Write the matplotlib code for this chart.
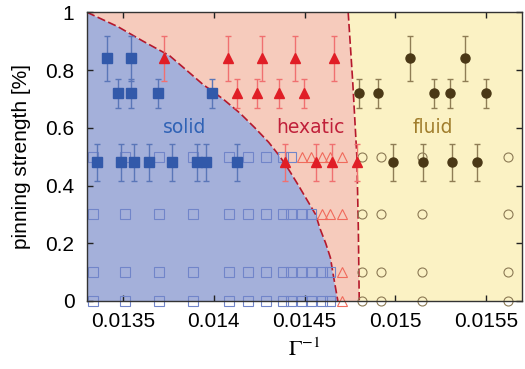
import numpy as np
import matplotlib
matplotlib.use("Agg")
import matplotlib.pyplot as plt

plt.rcParams['font.family'] = ['Liberation Sans', 'DejaVu Sans']
plt.rcParams['mathtext.fontset'] = 'stix'

# simulation grid (open symbols), x = 1/Gamma
grid_x = [0.013335, 0.013512, 0.013699, 0.013884, 0.014085, 0.014188, 0.014290,
          0.014383, 0.014427, 0.014485, 0.014538, 0.014594, 0.014643, 0.014708,
          0.014819, 0.014920, 0.015150, 0.015621]
grid_y = [0.5, 0.3, 0.1, 0.0]
# phase per grid row: s = solid, h = hexatic, f = fluid
grid_phase = {
    0.5: "sssssssss" + "hhhhh" + "ffff",
    0.3: "sssssssssss" + "hhh" + "ffff",
    0.1: "sssssssssssss" + "h" + "ffff",
    0.0: "sssssssssssss" + "h" + "ffff",
}

# measured points (filled symbols with error bars)
solid_x = [0.013408, 0.013542, 0.013472, 0.013542, 0.013693, 0.013991,
           0.013357, 0.013486, 0.013561, 0.013643, 0.013767, 0.013908, 0.013956, 0.014129]
solid_y = [0.84, 0.84, 0.72, 0.72, 0.72, 0.72,
           0.48, 0.48, 0.48, 0.48, 0.48, 0.48, 0.48, 0.48]
hex_x = [0.013726, 0.014079, 0.014266, 0.014447, 0.014663,
         0.014125, 0.014239, 0.014360, 0.014496,
         0.014392, 0.014566, 0.014652, 0.014792]
hex_y = [0.84] * 5 + [0.72] * 4 + [0.48] * 4
fluid_x = [0.015080, 0.015383,
           0.014800, 0.014906, 0.015213, 0.015301, 0.015500,
           0.014986, 0.015154, 0.015316, 0.015452]
fluid_y = [0.84] * 2 + [0.72] * 5 + [0.48] * 4
err_by_level = {0.84: 0.078, 0.72: 0.05, 0.48: 0.065}

# phase boundaries
b1_y = [1.0, 0.95, 0.9, 0.85, 0.8, 0.75, 0.7, 0.65, 0.6, 0.55, 0.5,
        0.45, 0.4, 0.35, 0.3, 0.25, 0.2, 0.15, 0.1, 0.05, 0.0]
b1_x = [0.013300, 0.013471, 0.013609, 0.013755, 0.013848, 0.013940, 0.014050,
        0.014145, 0.014226, 0.014302, 0.014365, 0.014418, 0.014467, 0.014514,
        0.014561, 0.014586, 0.014617, 0.014643, 0.014656, 0.014670, 0.014684]
b2_y = [1.0, 0.76, 0.5, 0.25, 0.0]
b2_x = [0.014741, 0.014766, 0.014789, 0.014797, 0.014802]

xmin, xmax = 0.0133, 0.0157

fig = plt.figure(figsize=(5.25, 3.69), dpi=100)
ax = fig.add_axes([0.1657, 0.1843, 0.8286, 0.7824])

# region fills
ax.fill(b1_x + [xmin], b1_y + [0.0], color='#a4b0da', lw=0, zorder=0)
ax.fill(b1_x + b2_x[::-1], b1_y + b2_y[::-1], color='#f6cbbc', lw=0, zorder=0)
ax.fill(b2_x + [xmax, xmax], b2_y + [0.0, 1.0], color='#fbf2c4', lw=0, zorder=0)
ax.plot(b1_x, b1_y, color='#b5182c', lw=1.2, ls=(0, (5, 2)), zorder=1)
ax.plot(b2_x, b2_y, color='#b5182c', lw=1.2, ls=(0, (5, 2)), zorder=1)

# open symbols
open_style = {
    's': dict(marker='s', color='#7185c9', ms=6.5),
    'h': dict(marker='^', color='#f06a5c', ms=6.5),
    'f': dict(marker='o', color='#8c7a55', ms=6.5),
}
for yv in grid_y:
    for xv, ph in zip(grid_x, grid_phase[yv]):
        st = open_style[ph]
        ax.plot(xv, yv, ls='none', marker=st['marker'], ms=st['ms'],
                mfc='none', mec=st['color'], mew=0.8, zorder=2, clip_on=False)

# filled symbols with error bars
for xs, ys, mk, mc, ec, ms in [
        (solid_x, solid_y, 's', '#3259aa', '#5a76b8', 6.5),
        (hex_x, hex_y, '^', '#e01e26', '#f07070', 7),
        (fluid_x, fluid_y, 'o', '#4a3816', '#8f7d55', 6.5)]:
    errs = [err_by_level[v] for v in ys]
    ax.errorbar(xs, ys, yerr=errs, fmt=mk, ms=ms, mfc=mc, mec=mc,
                ecolor=ec, elinewidth=1.0, capsize=2.5, capthick=1.0, zorder=3)

ax.text(0.013840, 0.60, 'solid', color='#2f62b5', fontsize=13.5,
        family='DejaVu Sans', ha='center', va='center')
ax.text(0.014530, 0.60, 'hexatic', color='#c0203a', fontsize=13.5,
        family='DejaVu Sans', ha='center', va='center')
ax.text(0.015208, 0.60, 'fluid', color='#a07d2c', fontsize=13.5,
        family='DejaVu Sans', ha='center', va='center')

ax.set_xlim(xmin, xmax)
ax.set_ylim(0, 1)
ax.set_xticks([0.0135, 0.014, 0.0145, 0.015, 0.0155])
ax.set_xticklabels(['0.0135', '0.014', '0.0145', '0.015', '0.0155'])
ax.set_yticks([0, 0.2, 0.4, 0.6, 0.8, 1])
ax.set_yticklabels(['0', '0.2', '0.4', '0.6', '0.8', '1'])
ax.tick_params(direction='in', top=True, right=True, length=4, width=1,
               labelsize=15, color='#222222')
ax.tick_params(axis='x', pad=8)
ax.tick_params(axis='y', pad=9)
for sp in ax.spines.values():
    sp.set_color('#333333')
    sp.set_linewidth(1.0)
ax.set_xlabel(r'$\Gamma^{-1}$', fontsize=16, labelpad=5)
ax.set_ylabel('pinning strength [%]', fontsize=15, labelpad=10)

fig.savefig('out.png', dpi=100)
